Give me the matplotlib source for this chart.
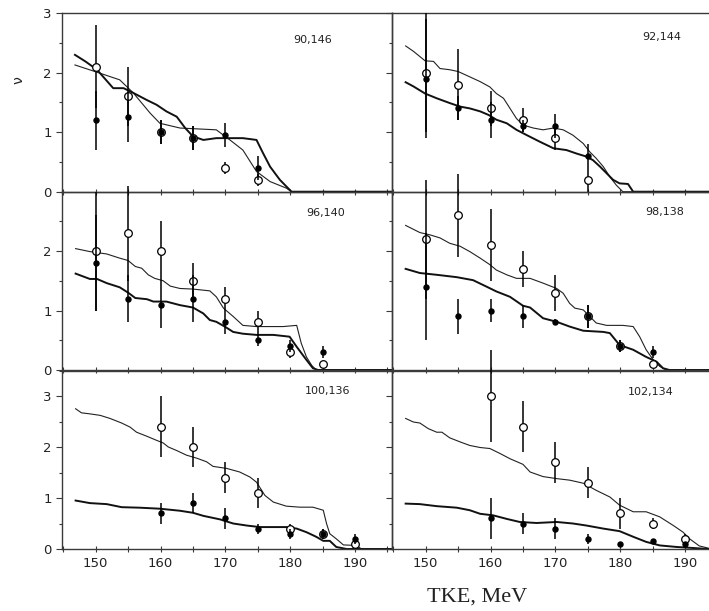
import matplotlib
matplotlib.use("Agg")
import matplotlib.pyplot as plt
from matplotlib.ticker import MultipleLocator, NullFormatter

# fragment pairs shown in the panels
labels = ["90,146", "92,144", "96,140", "98,138", "100,136", "102,134"]

# measured points (TKE in MeV)
x_a = [150, 155, 160, 165, 170, 175]
x_b = [150, 155, 160, 165, 170, 175, 180, 185]
x_c = [160, 165, 170, 175, 180, 185, 190]

# open circles / filled dots with errors, one pair of lists per panel
p1_open = [2.1, 1.6, 1.0, 0.9, 0.4, 0.2]
p1_open_err = [0.7, 0.5, 0.2, 0.2, 0.1, 0.1]
p1_fill = [1.2, 1.25, 1.0, 0.9, 0.95, 0.4]
p1_fill_err = [0.5, 0.42, 0.2, 0.2, 0.2, 0.2]

p2_open = [2.0, 1.8, 1.4, 1.2, 0.9, 0.2]
p2_open_err = [1.0, 0.6, 0.3, 0.2, 0.2, 0.2]
p2_fill = [1.9, 1.4, 1.2, 1.1, 1.1, 0.6]
p2_fill_err = [1.0, 0.2, 0.3, 0.1, 0.2, 0.2]

p3_open = [2.0, 2.3, 2.0, 1.5, 1.2, 0.8, 0.3, 0.1]
p3_open_err = [1.0, 0.8, 0.5, 0.3, 0.2, 0.2, 0.1, 0.05]
p3_fill = [1.8, 1.2, 1.1, 1.2, 0.8, 0.5, 0.4, 0.3]
p3_fill_err = [0.8, 0.4, 0.4, 0.4, 0.2, 0.1, 0.1, 0.1]

p4_open = [2.2, 2.6, 2.1, 1.7, 1.3, 0.9, 0.4, 0.1]
p4_open_err = [1.0, 0.7, 0.6, 0.3, 0.3, 0.2, 0.1, 0.05]
p4_fill = [1.4, 0.9, 1.0, 0.9, 0.8, 0.9, 0.4, 0.3]
p4_fill_err = [0.9, 0.3, 0.2, 0.2, 0.05, 0.2, 0.1, 0.1]

p5_open = [2.4, 2.0, 1.4, 1.1, 0.4, 0.3, 0.1]
p5_open_err = [0.6, 0.4, 0.3, 0.3, 0.1, 0.1, 0.05]
p5_fill = [0.7, 0.9, 0.6, 0.4, 0.3, 0.3, 0.2]
p5_fill_err = [0.2, 0.2, 0.2, 0.1, 0.1, 0.1, 0.1]

p6_open = [3.0, 2.4, 1.7, 1.3, 0.7, 0.5, 0.2]
p6_open_err = [0.9, 0.5, 0.4, 0.3, 0.3, 0.1, 0.1]
p6_fill = [0.6, 0.5, 0.4, 0.2, 0.1, 0.15, 0.1]
p6_fill_err = [0.4, 0.2, 0.2, 0.1, 0.0, 0.0, 0.0]

# calculated curves: thin and thick
p1_thin_x = [146.8, 150.7, 153.7, 155.8, 158.4, 159.9, 163.0, 168.6, 170.7, 172.7, 174.8, 176.9, 179.4, 180.2, 196]
p1_thin_y = [2.13, 1.99, 1.88, 1.66, 1.32, 1.15, 1.07, 1.04, 0.87, 0.70, 0.34, 0.17, 0.06, 0.0, 0.0]
p1_thick_x = [146.8, 148.4, 150.2, 152.7, 154.3, 155.8, 157.9, 159.4, 160.9, 162.5, 163.8, 165.0, 166.6, 168.6,
              172.7, 174.8, 175.8, 176.9, 178.4, 180.2, 196]
p1_thick_y = [2.30, 2.19, 2.05, 1.74, 1.74, 1.66, 1.54, 1.46, 1.35, 1.26, 1.07, 0.93, 0.87, 0.90,
              0.90, 0.87, 0.65, 0.42, 0.20, 0.0, 0.0]

p2_thin_x = [146.9, 148.1, 149.9, 151.2, 152.2, 153.7, 155.0, 156.8, 158.4, 159.9, 160.9, 162.0, 163.0, 164.0,
             165.0, 166.6, 168.1, 169.7, 171.2, 172.7, 174.3, 175.3, 176.3, 177.4, 178.4, 179.4, 180.4, 196]
p2_thin_y = [2.45, 2.36, 2.20, 2.19, 2.07, 2.05, 2.02, 1.93, 1.85, 1.76, 1.65, 1.57, 1.40, 1.23,
             1.12, 1.07, 1.04, 1.07, 1.04, 0.95, 0.81, 0.67, 0.56, 0.42, 0.25, 0.11, 0.0, 0.0]
p2_thick_x = [146.9, 148.1, 149.9, 151.7, 153.7, 155.3, 156.8, 158.4, 159.7, 160.9, 162.5, 164.0, 165.6, 167.6,
              169.7, 171.7, 173.3, 174.8, 175.8, 176.9, 177.9, 178.9, 179.9, 181.2, 182.0, 196]
p2_thick_y = [1.84, 1.77, 1.65, 1.57, 1.49, 1.43, 1.40, 1.35, 1.29, 1.21, 1.15, 1.04, 0.95, 0.84,
              0.73, 0.70, 0.64, 0.59, 0.53, 0.42, 0.31, 0.20, 0.14, 0.13, 0.0, 0.0]

p3_thin_x = [146.9, 149.1, 151.7, 153.7, 155.0, 156.1, 157.1, 158.1, 159.1, 160.4, 161.5, 163.0, 165.0, 167.6,
             168.6, 169.7, 171.2, 172.7, 174.8, 178.9, 181.0, 181.7, 182.5, 183.3, 184.0, 196]
p3_thin_y = [2.04, 1.99, 1.95, 1.88, 1.84, 1.74, 1.71, 1.60, 1.54, 1.50, 1.41, 1.37, 1.36, 1.33,
             1.23, 1.04, 0.90, 0.75, 0.73, 0.73, 0.75, 0.45, 0.22, 0.08, 0.0, 0.0]
p3_thick_x = [146.9, 149.1, 150.2, 151.7, 153.7, 155.0, 156.1, 157.9, 158.9, 160.9, 163.0, 165.0, 166.6, 167.6,
              168.6, 169.9, 171.2, 172.7, 174.8, 177.4, 179.9, 181.0, 182.5, 183.5, 184.3, 196]
p3_thick_y = [1.62, 1.53, 1.53, 1.46, 1.39, 1.30, 1.21, 1.19, 1.15, 1.15, 1.09, 1.05, 0.95, 0.84,
              0.81, 0.73, 0.64, 0.61, 0.59, 0.59, 0.56, 0.39, 0.17, 0.03, 0.0, 0.0]

p4_thin_x = [146.9, 149.1, 150.7, 152.2, 153.7, 155.3, 156.8, 158.4, 159.9, 160.9, 162.5, 164.0, 166.1, 168.1,
             170.2, 171.2, 172.2, 173.0, 174.3, 176.3, 177.9, 180.4, 182.0, 183.0, 184.0, 185.1, 186.1, 187.1, 196]
p4_thin_y = [2.43, 2.31, 2.27, 2.22, 2.13, 2.08, 1.99, 1.88, 1.77, 1.68, 1.60, 1.54, 1.54, 1.46,
             1.37, 1.29, 1.12, 1.04, 1.01, 0.79, 0.75, 0.75, 0.73, 0.56, 0.34, 0.17, 0.06, 0.0, 0.0]
p4_thick_x = [146.9, 149.1, 151.7, 154.8, 156.3, 157.3, 159.4, 160.9, 163.0, 165.0, 166.1, 168.1, 170.2, 172.2,
              174.3, 177.4, 178.4, 179.9, 182.0, 184.0, 185.6, 186.6, 187.6, 196]
p4_thick_y = [1.70, 1.63, 1.60, 1.56, 1.53, 1.51, 1.40, 1.32, 1.23, 1.08, 1.05, 0.87, 0.81, 0.73,
              0.66, 0.64, 0.62, 0.42, 0.34, 0.22, 0.14, 0.03, 0.0, 0.0]

p5_thin_x = [146.9, 147.8, 149.1, 150.7, 152.2, 154.0, 155.3, 156.3, 157.9, 159.4, 160.4, 161.2, 162.5, 164.0,
             165.6, 167.1, 168.1, 170.2, 172.2, 173.8, 174.8, 175.6, 176.1, 177.4, 179.4, 181.5, 183.5, 185.1,
             185.6, 186.1, 187.1, 188.2, 190.2, 191.0, 196]
p5_thin_y = [2.75, 2.67, 2.65, 2.62, 2.56, 2.47, 2.39, 2.29, 2.21, 2.13, 2.08, 2.00, 1.93, 1.84,
             1.78, 1.71, 1.62, 1.58, 1.51, 1.41, 1.31, 1.15, 1.05, 0.92, 0.84, 0.82, 0.82, 0.76,
             0.50, 0.30, 0.20, 0.08, 0.07, 0.0, 0.0]
p5_thick_x = [146.9, 149.1, 151.7, 154.0, 156.8, 159.9, 163.0, 165.0, 166.6, 169.2, 171.2, 173.3, 175.3, 179.4,
              181.0, 182.5, 184.0, 185.1, 186.1, 187.1, 188.7, 196]
p5_thick_y = [0.95, 0.90, 0.88, 0.82, 0.81, 0.79, 0.75, 0.71, 0.65, 0.58, 0.50, 0.46, 0.43, 0.43,
              0.40, 0.33, 0.24, 0.16, 0.16, 0.04, 0.0, 0.0]

p6_thin_x = [146.9, 148.1, 149.1, 150.4, 151.7, 152.5, 153.7, 155.3, 156.8, 158.4, 159.9, 161.5, 163.0, 165.0,
             166.1, 168.1, 170.2, 172.2, 174.3, 176.3, 178.4, 179.9, 182.0, 184.0, 186.1, 188.2, 189.7, 190.7,
             192.2, 193.8, 196]
p6_thin_y = [2.56, 2.49, 2.47, 2.36, 2.29, 2.29, 2.18, 2.10, 2.03, 1.99, 1.97, 1.87, 1.77, 1.66,
             1.51, 1.42, 1.38, 1.35, 1.29, 1.15, 1.02, 0.86, 0.73, 0.73, 0.63, 0.46, 0.33, 0.20,
             0.06, 0.01, 0.0]
p6_thick_x = [146.9, 149.1, 151.7, 154.8, 156.8, 158.4, 160.4, 162.5, 164.5, 167.1, 170.2, 172.7, 174.8, 177.4,
              179.9, 182.0, 184.0, 186.1, 188.7, 191.2, 193.6, 196]
p6_thick_y = [0.89, 0.88, 0.84, 0.81, 0.76, 0.69, 0.66, 0.59, 0.53, 0.51, 0.53, 0.50, 0.46, 0.40,
              0.35, 0.24, 0.14, 0.07, 0.04, 0.02, 0.0, 0.0]

panels = [
    (x_a, p1_open, p1_open_err, p1_fill, p1_fill_err, p1_thin_x, p1_thin_y, p1_thick_x, p1_thick_y),
    (x_a, p2_open, p2_open_err, p2_fill, p2_fill_err, p2_thin_x, p2_thin_y, p2_thick_x, p2_thick_y),
    (x_b, p3_open, p3_open_err, p3_fill, p3_fill_err, p3_thin_x, p3_thin_y, p3_thick_x, p3_thick_y),
    (x_b, p4_open, p4_open_err, p4_fill, p4_fill_err, p4_thin_x, p4_thin_y, p4_thick_x, p4_thick_y),
    (x_c, p5_open, p5_open_err, p5_fill, p5_fill_err, p5_thin_x, p5_thin_y, p5_thick_x, p5_thick_y),
    (x_c, p6_open, p6_open_err, p6_fill, p6_fill_err, p6_thin_x, p6_thin_y, p6_thick_x, p6_thick_y),
]

# panel label positions (axes fraction)
label_pos = [(0.758, 0.849), (0.817, 0.866), (0.798, 0.88), (0.826, 0.886), (0.806, 0.883), (0.785, 0.877)]

W, H = 709, 611
fig = plt.figure(figsize=(W / 100, H / 100), dpi=100)

col_left = [62 / W, 392 / W]
col_w = 330 / W
row_bottom = [1 - 191.7 / H, 1 - 370 / H, 1 - 549 / H]
row_h = 178.5 / H
ymax = [3.0, 3.0, 3.5]

axis_col = "#3a3a3a"

for i, data in enumerate(panels):
    r, c = divmod(i, 2)
    ax = fig.add_axes([col_left[c], row_bottom[r], col_w, row_h])
    xs, op, ope, fi, fie, tx, ty, kx, ky = data

    ax.plot(tx, ty, color="#222222", lw=0.8, zorder=2)
    ax.plot(kx, ky, color="#111111", lw=1.4, zorder=2)

    eb = ax.errorbar(xs, op, yerr=ope, fmt="o", ms=5.5, mfc="white", mec="black", mew=0.9,
                     ecolor="black", elinewidth=1.1, capsize=0, zorder=3)
    for art in eb.lines[2]:
        art.set_clip_on(False)
    eb = ax.errorbar(xs, fi, yerr=fie, fmt="o", ms=3.6, mfc="black", mec="black",
                     ecolor="black", elinewidth=1.1, capsize=0, zorder=4)
    for art in eb.lines[2]:
        art.set_clip_on(False)

    ax.set_xlim(144.8, 195.7)
    ax.set_ylim(0, ymax[r])
    ax.xaxis.set_major_locator(MultipleLocator(10))
    ax.xaxis.set_minor_locator(MultipleLocator(5))
    ax.yaxis.set_major_locator(MultipleLocator(1))
    ax.yaxis.set_minor_locator(MultipleLocator(0.5))
    ax.tick_params(axis="x", which="both", direction="inout", length=5, width=0.8, colors=axis_col,
                   labelsize=9.5, labelcolor="#222222")
    ax.tick_params(axis="y", which="major", direction="out", length=4, width=0.8, colors=axis_col,
                   labelsize=9.5, labelcolor="#222222")
    ax.tick_params(axis="y", which="minor", direction="out", length=2.5, width=0.8, colors=axis_col)
    for sp in ax.spines.values():
        sp.set_color(axis_col)
        sp.set_linewidth(1.0)

    if r < 2:
        ax.xaxis.set_major_formatter(NullFormatter())
    if c == 1:
        ax.yaxis.set_major_formatter(NullFormatter())
    elif r == 1:
        ax.set_yticks([0, 1, 2])

    ax.text(label_pos[i][0], label_pos[i][1], labels[i], transform=ax.transAxes,
            ha="center", va="center", fontsize=8, color="#222222")
    ax.patch.set_alpha(0)

fig.text(18 / W, 1 - 80 / H, "ν", rotation=90, ha="center", va="center", fontsize=10, color="#222222")
fig.text(477 / W, 1 - 597 / H, "TKE, MeV", ha="center", va="center", fontsize=16,
         family="Liberation Serif", color="#222222")

fig.savefig("out.png", dpi=100)
